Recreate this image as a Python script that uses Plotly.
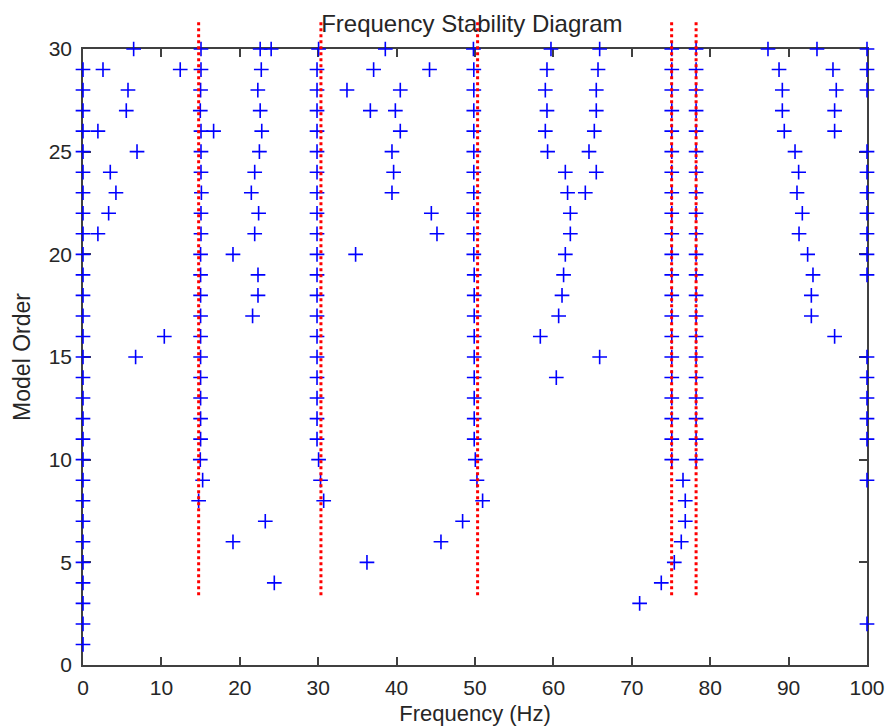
import plotly.graph_objects as go

# ---- pole data: (frequency in Hz, model order) ----
# poles sitting on the 0 Hz boundary
edge_low_orders = [1, 2, 3, 4, 5, 6, 7, 8, 9, 10, 11, 12, 13, 14, 15,
                   16, 17, 18, 19, 20, 21, 22, 23, 24, 25, 26, 27, 28, 29]
edge_low_freqs = [0.0] * len(edge_low_orders)

# poles sitting on the 100 Hz boundary
edge_high_orders = [2, 9, 11, 12, 13, 14, 15, 19, 20, 21, 22, 23, 24, 25, 28, 29, 30]
edge_high_freqs = [100.0] * len(edge_high_orders)

# stable column near 15 Hz (orders 8..30)
mode15_orders = [8, 9, 10, 11, 12, 13, 14, 15, 16, 17, 18, 19,
                 20, 21, 22, 23, 24, 25, 26, 27, 28, 29, 30]
mode15_freqs = [14.75, 15.26, 14.96, 15.0, 15.0, 15.0, 15.0, 15.0, 15.0, 15.0, 15.0, 15.0,
                15.0, 15.05, 15.05, 15.1, 15.05, 15.05, 15.05, 14.96, 15.0, 15.05, 15.05]

# stable column near 30 Hz (orders 8..30)
mode30_orders = [8, 9, 10, 11, 12, 13, 14, 15, 16, 17, 18, 19,
                 20, 21, 22, 23, 24, 25, 26, 27, 28, 29, 30]
mode30_freqs = [30.7, 30.3, 30.05, 29.85, 29.85, 29.85, 29.85, 29.85, 29.85, 29.85, 29.85, 29.85,
                29.85, 29.85, 29.85, 29.85, 29.85, 29.85, 29.85, 29.85, 29.85, 29.85, 30.05]

# stable column near 50 Hz (orders 8..30)
mode50_orders = [8, 9, 10, 11, 12, 13, 14, 15, 16, 17, 18, 19,
                 20, 21, 22, 23, 24, 25, 26, 27, 28, 29, 30]
mode50_freqs = [50.97, 50.25, 50.04, 49.9, 49.9, 49.9, 49.9, 49.9, 49.9, 49.9, 49.9, 49.9,
                49.85, 49.85, 49.85, 49.85, 49.85, 49.85, 49.85, 49.85, 49.85, 49.85, 49.8]

# stable columns near 75 Hz and 78 Hz (orders 10..30)
mode75_orders = [10, 11, 12, 13, 14, 15, 16, 17, 18, 19, 20,
                 21, 22, 23, 24, 25, 26, 27, 28, 29, 30]
mode75_freqs = [75.1] * len(mode75_orders)
mode78_orders = [10, 11, 12, 13, 14, 15, 16, 17, 18, 19, 20,
                 21, 22, 23, 24, 25, 26, 27, 28, 29, 30]
mode78_freqs = [78.2] * len(mode78_orders)

# remaining (unstable / spurious) poles
spurious_freqs = [6.46, 22.6, 24.0, 38.56, 59.69, 65.9, 87.37, 93.62,
                  2.55, 12.4, 22.74, 37.07, 44.2, 59.18, 65.69, 88.78, 95.66,
                  5.74, 22.3, 33.67, 40.47, 58.97, 65.47, 89.2, 96.08,
                  5.52, 22.6, 36.65, 39.84, 59.18, 65.47, 89.2, 95.87,
                  1.9, 16.66, 22.8, 40.47, 58.97, 65.22, 89.45, 95.87,
                  6.89, 22.5, 39.41, 59.26, 64.54, 90.82,
                  3.48, 21.9, 39.62, 61.52, 65.47, 91.28,
                  4.2, 21.47, 39.41, 61.81, 64.07, 91.07,
                  3.27, 22.4, 44.43, 62.16, 91.75,
                  1.9, 21.9, 45.15, 62.16, 91.33,
                  19.13, 34.77, 61.52, 92.43,
                  22.32, 61.3, 93.11,
                  22.32, 61.1, 92.9,
                  21.63, 60.67, 92.9,
                  10.37, 58.33, 95.87,
                  6.71, 65.9,
                  60.37,
                  76.53,
                  76.82,
                  23.25, 48.42, 76.82,
                  19.13, 45.66, 76.31,
                  36.22, 75.42,
                  24.4, 73.76,
                  71.0]
spurious_orders = [30, 30, 30, 30, 30, 30, 30, 30,
                   29, 29, 29, 29, 29, 29, 29, 29, 29,
                   28, 28, 28, 28, 28, 28, 28, 28,
                   27, 27, 27, 27, 27, 27, 27, 27,
                   26, 26, 26, 26, 26, 26, 26, 26,
                   25, 25, 25, 25, 25, 25,
                   24, 24, 24, 24, 24, 24,
                   23, 23, 23, 23, 23, 23,
                   22, 22, 22, 22, 22,
                   21, 21, 21, 21, 21,
                   20, 20, 20, 20,
                   19, 19, 19,
                   18, 18, 18,
                   17, 17, 17,
                   16, 16, 16,
                   15, 15,
                   14,
                   9,
                   8,
                   7, 7, 7,
                   6, 6, 6,
                   5, 5,
                   4, 4,
                   3]

# identified stable modes (dotted markers) and the order span they cover
stable_mode_freqs = [14.75, 30.35, 50.33, 75.08, 78.2]
stable_line_span = (3.4, 31.3)

x_ticks = [0, 10, 20, 30, 40, 50, 60, 70, 80, 90, 100]
y_ticks = [0, 5, 10, 15, 20, 25, 30]
x_range = [0, 100]
y_range = [0, 30]

all_freqs = (edge_low_freqs + edge_high_freqs + mode15_freqs + mode30_freqs +
             mode50_freqs + mode75_freqs + mode78_freqs + spurious_freqs)
all_orders = (edge_low_orders + edge_high_orders + mode15_orders + mode30_orders +
              mode50_orders + mode75_orders + mode78_orders + spurious_orders)

FONT = "Liberation Sans, Arial, sans-serif"
TEXT = "#262626"
AXIS = "#404040"

fig = go.Figure()
fig.add_trace(go.Scatter(
    x=all_freqs, y=all_orders, mode="markers",
    marker=dict(symbol="cross-thin", size=10.5, color="#0000ff",
                line=dict(color="#0000ff", width=1.6)),
    cliponaxis=False, showlegend=False, hoverinfo="x+y",
))

# vertical dotted lines at the stable modes; extend slightly above the box
span_lo = (stable_line_span[0] - y_range[0]) / (y_range[1] - y_range[0])
span_hi = (stable_line_span[1] - y_range[0]) / (y_range[1] - y_range[0])
for f in stable_mode_freqs:
    fig.add_shape(type="line", xref="x", yref="paper",
                  x0=f, x1=f, y0=span_lo, y1=span_hi,
                  line=dict(color="#ff0000", width=3, dash="dot"), layer="above")

axis_common = dict(
    showline=True, linecolor=AXIS, linewidth=1.5, mirror="ticks",
    ticks="inside", ticklen=8, tickwidth=1.5, tickcolor=AXIS,
    showgrid=False, zeroline=False, layer="below traces", automargin=False,
    tickfont=dict(family=FONT, size=21, color=TEXT),
)

fig.update_xaxes(range=x_range, tickvals=x_ticks, ticktext=[str(v) for v in x_ticks],
                 ticklabelstandoff=3,
                 title=dict(text="Frequency (Hz)", font=dict(family=FONT, size=22, color=TEXT),
                            standoff=8),
                 **axis_common)
fig.update_yaxes(range=y_range, tickvals=y_ticks, ticktext=[str(v) for v in y_ticks],
                 ticklabelstandoff=5,
                 title=dict(text="Model Order", font=dict(family=FONT, size=23, color=TEXT),
                            standoff=12),
                 **axis_common)

fig.update_layout(
    width=887, height=728,
    margin=dict(l=83, r=20, t=49, b=63, pad=0),
    paper_bgcolor="white", plot_bgcolor="white",
    title=dict(text="Frequency Stability Diagram", x=0.532, xanchor="center",
               y=0.967, yanchor="middle", yref="container",
               font=dict(family=FONT, size=24, color=TEXT)),
)

fig.write_html("out.html")
